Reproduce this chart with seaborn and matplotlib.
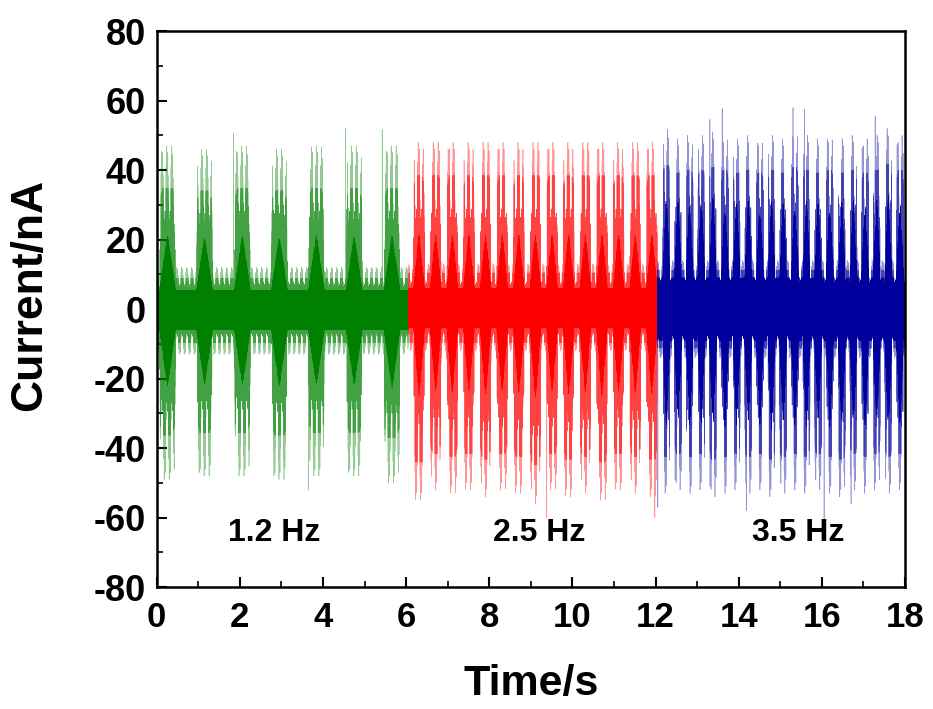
import numpy as np
import pandas as pd
import matplotlib
matplotlib.use("Agg")
import matplotlib.pyplot as plt
from matplotlib.ticker import MultipleLocator
import seaborn as sns

# ---------------- data ----------------
segment_labels = ["1.2 Hz", "2.5 Hz", "3.5 Hz"]
segment_start = [0.0, 6.05, 12.05]
segment_end = [6.05, 12.05, 18.0]
segment_colors = ["#008000", "#ff0000", "#00009c"]
label_x = [2.83, 9.2, 15.43]
label_y = [-64.5, -64.5, -64.5]

green_burst_t = [0.26, 1.15, 2.06, 2.95, 3.84, 4.75, 5.66]
green_burst_hi = [47, 46, 47, 46, 47, 47, 47]
green_burst_lo = [-49, -48, -48, -49, -48, -48, -50]
green_base = [12, -13]
green_spike_t = [1.85, 4.54, 5.42, 3.65]
green_spike_v = [50.6, 52, 51.7, -52]

red_burst_t = [6.31, 6.71, 7.11, 7.51, 7.91, 8.31, 8.71, 9.11, 9.51, 9.91,
               10.31, 10.71, 11.11, 11.51, 11.91]
red_burst_hi = [48, 48, 48, 48, 48, 48, 48, 48, 48, 48, 48, 48, 48, 48, 48]
red_burst_lo = [-55, -52, -53, -52, -54, -52, -53, -56, -52, -54, -53, -55, -52, -53, -54]
red_base = [13, -12]
red_spike_t = [9.38, 11.98]
red_spike_v = [-60, -60]

blue_burst_t = [12.26, 12.54, 12.82, 13.10, 13.38, 13.67, 13.95, 14.23, 14.51,
                14.79, 15.07, 15.35, 15.63, 15.91, 16.19, 16.48, 16.76, 17.04,
                17.32, 17.60, 17.88]
blue_burst_hi = [51.7, 49, 50, 50, 51, 50, 49, 50, 49, 50, 49, 51, 50, 49, 50,
                 49, 50, 49, 50, 52, 50]
blue_burst_lo = [-53, -52, -53, -52, -54, -53, -52, -53, -52, -54, -53, -52,
                 -53, -52, -53, -54, -52, -53, -52, -53, -52]
blue_base = [14, -14]
blue_spike_t = [13.3, 13.6, 15.3, 15.58, 17.28, 14.18, 16.7, 12.02, 16.05]
blue_spike_v = [54.6, 57.7, 58, 57.5, 55.5, -58, -56, -57, -61]

# relative stroke heights inside the oscillation (read from the stroke density)
stroke_pattern = [1.0, 0.5, 0.9, 0.3, 0.75, 0.6, 0.96, 0.2, 0.82, 0.45,
                  0.65, 0.88, 0.35, 0.7, 0.55]
# burst envelope profile: relative distance from burst centre -> relative height
burst_shape_pos = [0.0, 0.6, 0.9, 1.0]
burst_shape_val = [1.0, 1.0, 0.9, 0.0]
core_shape_pos = [0.0, 1.0]
core_shape_val = [1.0, 0.0]
burst_half_width = [0.19, 0.13, 0.085]
core_level = [0.45, 0.45, 0.64]     # dark band, fraction of envelope
mid_level = [0.74, 0.8, 0.8]        # medium band, fraction of envelope
sample_step = 0.004

segments = [
    (green_burst_t, green_burst_hi, green_burst_lo, green_base, green_spike_t, green_spike_v),
    (red_burst_t, red_burst_hi, red_burst_lo, red_base, red_spike_t, red_spike_v),
    (blue_burst_t, blue_burst_hi, blue_burst_lo, blue_base, blue_spike_t, blue_spike_v),
]

frames = []
for i, (bt, hi, lo, base, st, sv) in enumerate(segments):
    t = np.arange(segment_start[i], segment_end[i], sample_step)
    up = np.full(t.size, float(base[0]))
    dn = np.full(t.size, float(base[1]))
    cup = up.copy()
    cdn = dn.copy()
    for tb, h, l in zip(bt, hi, lo):
        r = np.abs(t - tb) / burst_half_width[i]
        w = np.interp(r, burst_shape_pos, burst_shape_val, right=0.0)
        wc = np.interp(r, core_shape_pos, core_shape_val, right=0.0)
        up = np.maximum(up, base[0] + (h - base[0]) * w)
        dn = np.minimum(dn, base[1] + (l - base[1]) * w)
        cup = np.maximum(cup, base[0] + (h - base[0]) * wc)
        cdn = np.minimum(cdn, base[1] + (l - base[1]) * wc)
    k = np.arange(t.size)
    pat = np.array(stroke_pattern)[k % len(stroke_pattern)]
    y = np.where(k % 2 == 0, up * pat, dn * pat)
    for ts, vs in zip(st, sv):
        j = int(np.argmin(np.abs(t - ts)))
        if (vs > 0) != (j % 2 == 0):
            j += 1
        y[j] = vs
    y_mid = np.clip(y, dn * mid_level[i], up * mid_level[i])
    y_core = np.clip(y, cdn * core_level[i], cup * core_level[i])
    frames.append(pd.DataFrame({"Time": t, "Current": y, "Mid": y_mid, "Core": y_core,
                                "segment": segment_labels[i]}))
df = pd.concat(frames, ignore_index=True)

# ---------------- plotting ----------------
sns.set_theme(style="ticks")
plt.rcParams["font.family"] = ["Liberation Sans", "DejaVu Sans"]
plt.rcParams["font.weight"] = "bold"
plt.rcParams["axes.unicode_minus"] = False
for key in ["text.color", "axes.labelcolor", "xtick.color", "ytick.color", "axes.edgecolor"]:
    plt.rcParams[key] = "black"

fig = plt.figure(figsize=(9.33, 7.09), dpi=100)
ax = fig.add_axes([0.168, 0.172, 0.802, 0.784])

pal = dict(zip(segment_labels, segment_colors))
for col, a, lw in [("Current", 0.42, 0.45), ("Mid", 0.55, 0.45), ("Core", 1.0, 0.5)]:
    sns.lineplot(data=df, x="Time", y=col, hue="segment", palette=pal,
                 estimator=None, sort=False, linewidth=lw, alpha=a,
                 legend=False, ax=ax)

for lx, ly, txt in zip(label_x, label_y, segment_labels):
    ax.text(lx, ly, txt, ha="center", va="center", fontsize=23, fontweight="bold")

ax.set_xlim(0, 18)
ax.set_ylim(-80, 80)
ax.set_xticks(np.arange(0, 19, 2))
ax.set_yticks(np.arange(-80, 81, 20))
ax.xaxis.set_minor_locator(MultipleLocator(1))
ax.yaxis.set_minor_locator(MultipleLocator(10))
ax.tick_params(which="major", direction="in", length=7, width=1.5, pad=8)
ax.tick_params(axis="y", which="major", labelsize=26)
ax.tick_params(axis="x", which="major", labelsize=25, pad=10)
ax.tick_params(which="minor", direction="in", length=4, width=1.2)
for lab in ax.get_xticklabels() + ax.get_yticklabels():
    lab.set_fontweight("bold")
for sp in ax.spines.values():
    sp.set_visible(True)
    sp.set_linewidth(1.8)
    sp.set_color("black")

ax.set_xlabel("Time/s", fontsize=31, fontweight="bold", labelpad=22)
ax.set_ylabel("Current/nA", fontsize=32, fontweight="bold")
ax.yaxis.set_label_coords(-0.143, 0.526)

fig.savefig("out.png", dpi=100, facecolor="white")
